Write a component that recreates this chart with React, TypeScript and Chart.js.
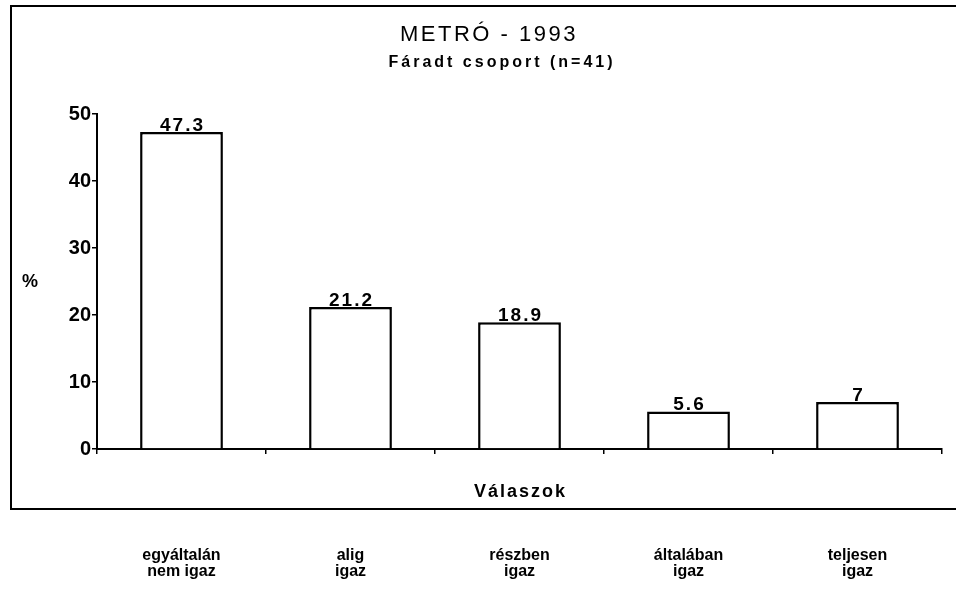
import { useEffect, useRef } from "react";
import { Chart, registerables } from "chart.js";

Chart.register(...registerables);

const titleText = "METRÓ - 1993";
const subtitleText = "Fáradt csoport (n=41)";
const yAxisLabel = "%";
const xAxisLabel = "Válaszok";
const categories: string[][] = [
  ["egyáltalán", "nem igaz"],
  ["alig", "igaz"],
  ["részben", "igaz"],
  ["általában", "igaz"],
  ["teljesen", "igaz"],
];
const values = [47.3, 21.2, 18.9, 5.6, 7];
const valueLabels = ["47.3", "21.2", "18.9", "5.6", "7"];
const yMin = 0;
const yMax = 50;
const yStep = 10;

const FONT = '"Liberation Sans", Arial, Helvetica, sans-serif';

const decorPlugin = {
  id: "decor",
  beforeDraw(chart: any) {
    const { ctx, width } = chart;
    ctx.save();
    ctx.fillStyle = "#fff";
    ctx.fillRect(0, 0, width, chart.height);
    ctx.strokeStyle = "#000";
    ctx.lineWidth = 2;
    ctx.beginPath();
    ctx.moveTo(width, 6);
    ctx.lineTo(11, 6);
    ctx.lineTo(11, 509);
    ctx.lineTo(width, 509);
    ctx.stroke();
    ctx.restore();
  },
  afterDraw(chart: any) {
    const { ctx, chartArea } = chart;
    ctx.save();
    ctx.fillStyle = "#000";
    ctx.textAlign = "center";
    ctx.textBaseline = "alphabetic";

    // title
    ctx.font = `22px ${FONT}`;
    (ctx as any).letterSpacing = "2.5px";
    ctx.fillText(titleText, 489, 41);

    // subtitle
    ctx.font = `bold 16px ${FONT}`;
    (ctx as any).letterSpacing = "3px";
    ctx.fillText(subtitleText, 502, 67);

    // y axis label
    ctx.font = `bold 18px ${FONT}`;
    (ctx as any).letterSpacing = "0px";
    ctx.fillText(yAxisLabel, 30, 287);

    // x axis label
    ctx.font = `bold 18px ${FONT}`;
    (ctx as any).letterSpacing = "2px";
    ctx.fillText(xAxisLabel, (chartArea.left + chartArea.right) / 2 + 1, 497);

    // value labels
    ctx.font = `bold 19px ${FONT}`;
    (ctx as any).letterSpacing = "2px";
    const meta = chart.getDatasetMeta(0);
    meta.data.forEach((bar: any, i: number) => {
      ctx.fillText(valueLabels[i], bar.x + 1, bar.y - 1);
    });
    ctx.restore();
  },
};

export default function App() {
  const canvasRef = useRef<HTMLCanvasElement | null>(null);

  useEffect(() => {
    document.body.style.margin = "0";
    const canvas = canvasRef.current;
    if (!canvas) return;
    const chart = new Chart(canvas, {
      type: "bar",
      data: {
        labels: categories,
        datasets: [
          {
            data: values,
            backgroundColor: "#ffffff",
            borderColor: "#000000",
            borderWidth: 2.5,
            categoryPercentage: 1,
            barPercentage: 0.49,
          },
        ],
      },
      options: {
        animation: false,
        responsive: true,
        maintainAspectRatio: false,
        layout: { padding: { top: 114, right: 14, bottom: 0, left: 0 } },
        plugins: {
          legend: { display: false },
          title: { display: false },
          tooltip: { enabled: false },
        },
        scales: {
          x: {
            type: "category",
            offset: true,
            afterFit(scale: any) {
              scale.height = 145;
              scale.paddingLeft = 0;
              scale.paddingRight = 0;
            },
            grid: {
              display: true,
              offset: true,
              drawOnChartArea: false,
              drawTicks: true,
              tickLength: 5,
              color: "#000",
              lineWidth: 1.5,
            },
            border: { display: true, color: "#000", width: 2 },
            ticks: {
              color: "#000",
              padding: 93,
              maxRotation: 0,
              autoSkip: false,
              font: { family: FONT, size: 16, weight: "bold", lineHeight: 1.02 },
            },
          },
          y: {
            min: yMin,
            max: yMax,
            afterFit(scale: any) {
              scale.width = 97;
              scale.paddingTop = 0;
              scale.paddingBottom = 0;
            },
            grid: {
              display: true,
              drawOnChartArea: false,
              drawTicks: true,
              tickLength: 5,
              color: "#000",
              lineWidth: 1.5,
            },
            border: { display: true, color: "#000", width: 2 },
            ticks: {
              stepSize: yStep,
              color: "#000",
              padding: 1,
              font: { family: FONT, size: 20, weight: "bold" },
            },
          },
        },
      },
      plugins: [decorPlugin],
    });
    return () => chart.destroy();
  }, []);

  return (
    <div style={{ position: "relative", width: "956px", height: "594px" }}>
      <canvas ref={canvasRef} />
    </div>
  );
}
